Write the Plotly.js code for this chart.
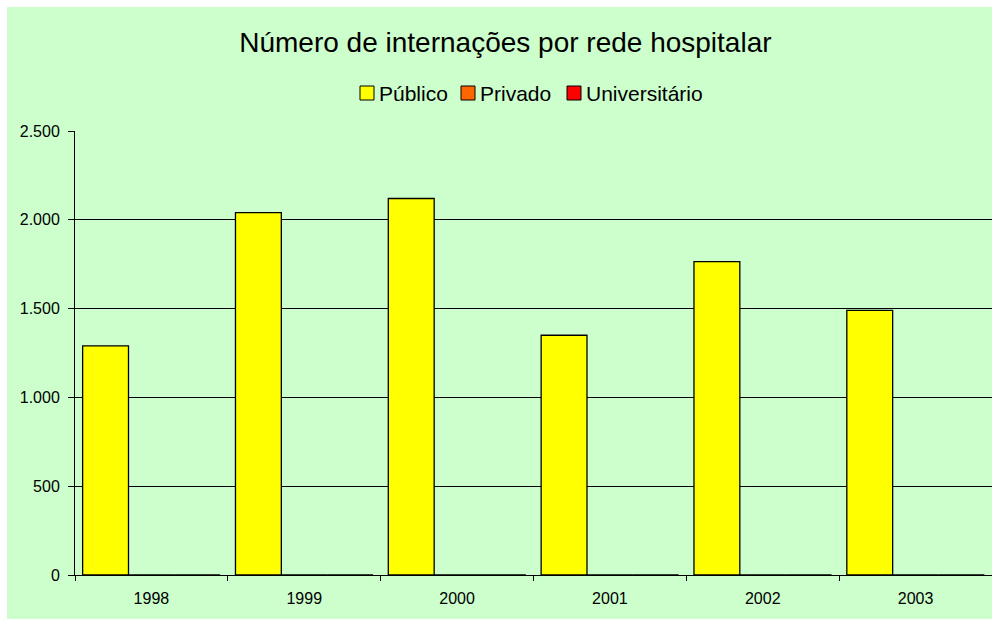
<!DOCTYPE html>
<html>
<head>
<meta charset="utf-8">
<script src="https://cdn.plot.ly/plotly-3.0.1.min.js"></script>
<style>
  html, body { margin: 0; padding: 0; background: #ffffff; }
  #chart { position: absolute; left: 7px; top: 7px; width: 985px; height: 612px; }
</style>
</head>
<body>
<div id="chart"></div>
<script>
const anos = ['1998', '1999', '2000', '2001', '2002', '2003'];
const publico = [1290, 2040, 2120, 1350, 1765, 1490];
const privado = [0, 0, 0, 0, 0, 0];
const universitario = [0, 0, 0, 0, 0, 0];
const seriesNames = ['Público', 'Privado', 'Universitário'];
const seriesColors = ['#FFFF00', '#FF6600', '#FF0000'];
const seriesValues = [publico, privado, universitario];

const font = 'Liberation Sans, Arial, sans-serif';

const W = 985, H = 612;
const M = { l: 68, r: 0, t: 124, b: 44 };
const PW = W - M.l - M.r, PH = H - M.t - M.b;
// pixel (within the chart div) -> paper coordinates
const px = x => (x - M.l) / PW;
const py = y => (H - M.b - y) / PH;

const traces = seriesNames.map((name, i) => ({
  type: 'bar',
  name: name,
  x: anos,
  y: seriesValues[i],
  marker: { color: seriesColors[i], line: { color: '#000000', width: 1.3 } },
  hoverinfo: 'x+y+name',
  showlegend: false
}));

// custom legend (symbol squares + text), laid out like the reference
const legendLeft = [353, 454, 560];   // square left edges, px in div
const legendMidY = 86;                // px in div
const sq = 14;
const shapes = seriesNames.map((n, i) => ({
  type: 'rect', xref: 'paper', yref: 'paper',
  x0: px(legendLeft[i]), x1: px(legendLeft[i] + sq),
  y0: py(legendMidY + sq / 2), y1: py(legendMidY - sq / 2),
  fillcolor: seriesColors[i],
  line: { color: '#000000', width: 1 }
}));
const annotations = seriesNames.map((n, i) => ({
  text: n, xref: 'paper', yref: 'paper',
  x: px(legendLeft[i] + sq + 4), y: py(legendMidY),
  xanchor: 'left', yanchor: 'middle', showarrow: false,
  borderpad: 0,
  font: { family: font, size: 21, color: '#000000' }
}));

const layout = {
  width: W,
  height: H,
  margin: M,
  paper_bgcolor: '#CCFFCC',
  plot_bgcolor: '#CCFFCC',
  separators: ',.',
  barmode: 'group',
  bargap: 0.1,
  bargroupgap: 0,
  title: {
    text: 'Número de internações por rede hospitalar',
    font: { family: font, size: 28, color: '#000000' },
    x: 0.506, xref: 'container', xanchor: 'center',
    y: 0.943, yref: 'container', yanchor: 'middle'
  },
  showlegend: false,
  shapes: shapes,
  annotations: annotations,
  xaxis: {
    type: 'category',
    showline: true, linecolor: '#000000', linewidth: 1,
    ticks: 'outside', tickson: 'boundaries', ticklen: 5, tickcolor: '#000000',
    ticklabelstandoff: 9,
    showgrid: false,
    tickfont: { family: font, size: 16, color: '#000000' },
    fixedrange: true
  },
  yaxis: {
    range: [0, 2500],
    dtick: 500,
    tick0: 0,
    separatethousands: true,
    showline: true, linecolor: '#000000', linewidth: 1,
    ticks: 'outside', ticklen: 6, tickcolor: '#000000',
    ticklabelstandoff: 5,
    showgrid: true, gridcolor: '#000000', gridwidth: 1,
    zeroline: false,
    tickfont: { family: font, size: 16, color: '#000000' },
    fixedrange: true
  }
};

Plotly.newPlot('chart', traces, layout, { displayModeBar: false, responsive: false });
</script>
</body>
</html>
